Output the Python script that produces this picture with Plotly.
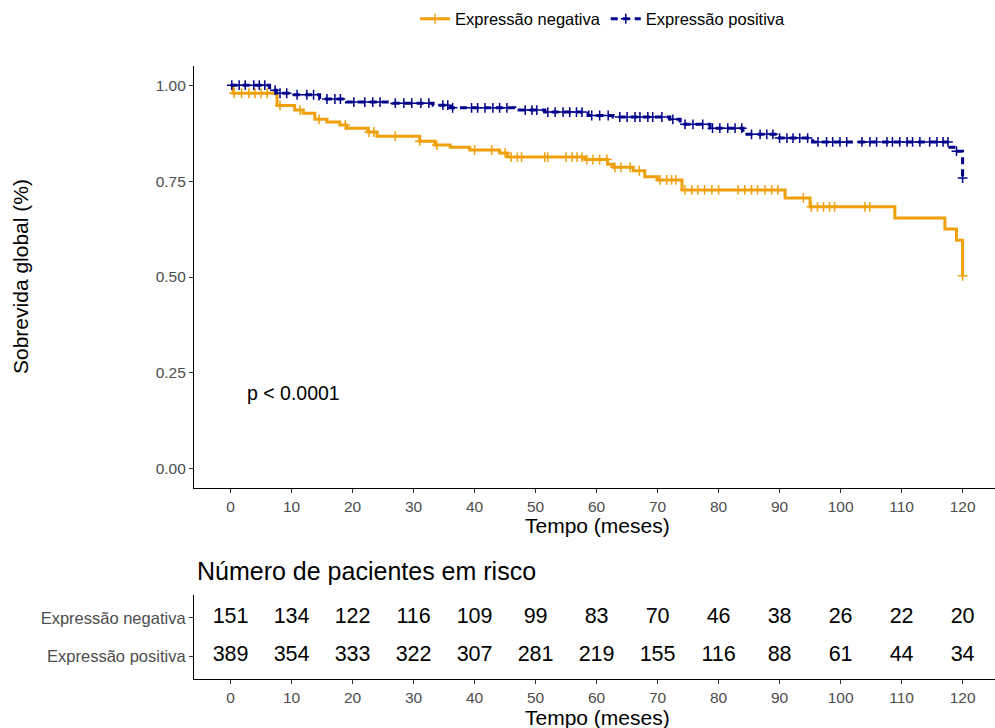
import bisect
import plotly.graph_objects as go

# Kaplan-Meier step estimates (months, survival) for each group
neg_times = [0, 0.4, 7.6, 10.5, 11.9, 13.8, 15.8, 17.9, 19.0, 22.5, 24.0, 31.0, 33.5, 36.0,
             39.2, 44.1, 45.4, 58.1, 61.8, 62.7, 66.0, 67.9, 70.0, 74.0, 90.9, 95.0,
             108.9, 117.1, 119.0, 120.0]
neg_surv = [1.0, 0.979, 0.947, 0.935, 0.927, 0.911, 0.904, 0.896, 0.888, 0.878, 0.867, 0.854,
            0.844, 0.838, 0.831, 0.823, 0.8125, 0.806, 0.794, 0.786, 0.777, 0.761, 0.753,
            0.727, 0.706, 0.683, 0.654, 0.625, 0.596, 0.503]

pos_times = [0, 6.4, 7.5, 9.7, 14.6, 19.0, 26.6, 33.2, 36.0, 46.6, 51.5, 58.6, 62.7, 72.0,
             73.7, 78.6, 84.0, 90.0, 95.4, 117.9, 119.0, 120.0]
pos_surv = [1.0, 0.987, 0.979, 0.975, 0.964, 0.956, 0.953, 0.948, 0.941, 0.935, 0.930, 0.921,
            0.917, 0.911, 0.898, 0.888, 0.872, 0.862, 0.852, 0.838, 0.828, 0.758]

# censoring times
neg_censor = [0.6, 1.8, 3.0, 4.0, 5.0, 6.0, 8.1, 11.4, 14.5, 18.8, 22.7, 23.5, 27.0, 31.0, 33.8,
              40.0, 42.8, 45.0, 46.0, 47.0, 47.7, 51.5, 52.0, 55.0, 56.0, 56.8, 57.6, 58.4,
              59.4, 60.5, 61.7, 63.0, 64.0, 65.5, 67.0, 70.4, 71.5, 72.3, 73.0, 74.5, 75.6,
              76.6, 77.7, 78.9, 80.0, 83.2, 84.3, 85.4, 86.4, 87.6, 88.7, 89.7, 93.9, 95.2,
              96.2, 97.2, 98.2, 99.0, 104.0, 104.8, 120.0]
pos_censor = [0.2, 1.4, 2.4, 3.8, 4.7, 5.6, 7.3, 8.1, 9.2, 10.9, 12.5, 13.6, 15.8, 17.1, 18.0,
              20.2, 22.0, 23.3, 24.5, 27.0, 28.4, 29.7, 31.2, 32.5, 34.8, 35.6, 36.4, 39.5,
              40.5, 41.7, 43.0, 44.1, 45.3, 48.3, 49.4, 50.2, 52.0, 53.2, 54.5, 55.6, 56.7,
              57.6, 59.2, 60.5, 61.9, 63.8, 65.0, 66.3, 67.1, 68.4, 69.2, 70.7, 72.5, 74.5,
              75.8, 77.4, 79.0, 80.2, 81.5, 82.7, 83.8, 85.4, 86.8, 87.9, 88.9, 90.0, 91.2,
              92.2, 93.3, 94.6, 96.3, 97.7, 98.7, 99.9, 101.0, 103.5, 104.8, 105.9, 107.6,
              108.5, 109.7, 110.9, 111.8, 113.0, 114.6, 115.8, 116.8, 117.6, 119.0, 120.0]

# number at risk table
risk_times = [0, 10, 20, 30, 40, 50, 60, 70, 80, 90, 100, 110, 120]
risk_neg = [151, 134, 122, 116, 109, 99, 83, 70, 46, 38, 26, 22, 20]
risk_pos = [389, 354, 333, 322, 307, 281, 219, 155, 116, 88, 61, 44, 34]

groups = ["Expressão negativa", "Expressão positiva"]
colors = ["#EFA00B", "#00008B"]
y_ticks = [0, 0.25, 0.5, 0.75, 1.0]
y_ticklabels = ["0.00", "0.25", "0.50", "0.75", "1.00"]

FONT = "Liberation Sans, Arial, Helvetica, sans-serif"
GRAY = "#4D4D4D"
W, H = 995, 728
L = 194
TICK = 15.5


def surv_at(times, surv, t):
    i = bisect.bisect_right(times, t) - 1
    return surv[max(i, 0)]


fig = go.Figure()

series = [
    (neg_times, neg_surv, neg_censor, "solid"),
    (pos_times, pos_surv, pos_censor, "7px,5px"),
]
for (t, s, c, dash), name, col in zip(series, groups, colors):
    fig.add_trace(go.Scatter(
        x=t, y=s, mode="lines", line=dict(color=col, width=3, shape="hv", dash=dash),
        name=name, showlegend=False, xaxis="x", yaxis="y", hoverinfo="skip"))
    fig.add_trace(go.Scatter(
        x=c, y=[surv_at(t, s, v) for v in c], mode="markers",
        marker=dict(symbol="cross-thin", size=7, line=dict(color=col, width=1.5)),
        showlegend=False, xaxis="x", yaxis="y", hoverinfo="skip"))
    # legend entry
    fig.add_trace(go.Scatter(
        x=[None], y=[None], mode="lines+markers", name=name,
        line=dict(color=col, width=3, dash=dash),
        marker=dict(symbol="cross-thin", size=7, line=dict(color=col, width=1.5)),
        xaxis="x", yaxis="y"))

# risk table numbers
for name, vals in zip(groups, [risk_neg, risk_pos]):
    fig.add_trace(go.Scatter(
        x=risk_times, y=[name] * len(risk_times), mode="text",
        text=[str(v) for v in vals], textposition="middle center",
        textfont=dict(family=FONT, size=21.5, color="black"),
        showlegend=False, xaxis="x2", yaxis="y2", hoverinfo="skip"))

pw = W - L
xr = [-6, -6 + pw / 6.1]


def ydom(top_px, bot_px):
    return [1 - bot_px / H, 1 - top_px / H]


axis_common = dict(
    range=xr, tickmode="array", tickvals=risk_times, ticktext=[str(v) for v in risk_times],
    showgrid=False, zeroline=False, showline=True, linecolor="black", linewidth=1.2,
    ticks="outside", ticklen=4, tickwidth=1, tickcolor="#333333",
    tickfont=dict(family=FONT, size=TICK, color=GRAY),
)

fig.update_layout(
    width=W, height=H,
    margin=dict(l=L, r=0, t=0, b=0),
    paper_bgcolor="white", plot_bgcolor="white",
    font=dict(family=FONT),
    xaxis=dict(axis_common, anchor="y"),
    yaxis=dict(domain=ydom(66, 488), range=[-0.05, 1.05], tickmode="array",
               tickvals=y_ticks, ticktext=y_ticklabels, showgrid=False, zeroline=False,
               showline=True, linecolor="black", linewidth=1.2, ticks="outside", ticklen=4,
               tickwidth=1, tickcolor="#333333",
               tickfont=dict(family=FONT, size=TICK, color=GRAY), anchor="x"),
    xaxis2=dict(axis_common, anchor="y2"),
    yaxis2=dict(domain=ydom(595, 679), type="category",
                categoryorder="array", categoryarray=[groups[1], groups[0]],
                range=[-0.6, 1.6], showgrid=False, zeroline=False, showline=True,
                linecolor="black", linewidth=1.2, ticks="outside", ticklen=4, tickwidth=1,
                tickcolor="#333333", tickfont=dict(family=FONT, size=16.5, color=GRAY),
                anchor="x2"),
    legend=dict(orientation="h", x=(603 - L) / pw, y=1 - 19 / H, xanchor="center",
                yanchor="middle", font=dict(family=FONT, size=16.5, color="black"),
                bgcolor="rgba(0,0,0,0)", itemwidth=30, tracegroupgap=0),
    annotations=[
        dict(text="Sobrevida global (%)", x=(20 - L) / pw, y=1 - 277 / H, xref="paper",
             yref="paper", textangle=-90, showarrow=False,
             font=dict(family=FONT, size=21, color="black"), xanchor="center",
             yanchor="middle"),
        dict(text="Tempo (meses)", x=(597 - L) / pw, y=1 - 525 / H, xref="paper",
             yref="paper", showarrow=False, font=dict(family=FONT, size=21, color="black"),
             xanchor="center", yanchor="middle"),
        dict(text="Tempo (meses)", x=(597 - L) / pw, y=1 - 717 / H, xref="paper",
             yref="paper", showarrow=False, font=dict(family=FONT, size=21, color="black"),
             xanchor="center", yanchor="middle"),
        dict(text="p < 0.0001", x=2.3, y=0.198, xref="x", yref="y", showarrow=False,
             font=dict(family=FONT, size=19.5, color="black"), xanchor="left",
             yanchor="middle"),
        dict(text="Número de pacientes em risco", x=(195 - L) / pw, y=1 - 571 / H,
             xref="paper", yref="paper", showarrow=False,
             font=dict(family=FONT, size=25, color="black"), xanchor="left",
             yanchor="middle"),
    ],
)

fig.write_html("out.html")
